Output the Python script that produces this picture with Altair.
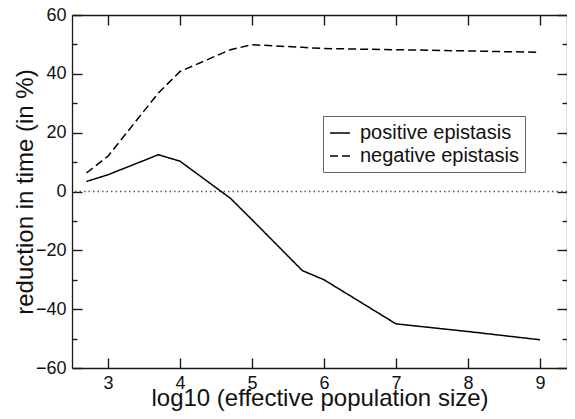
import altair as alt
import pandas as pd

# ---- data ----
log_n = [2.7, 3.0, 3.7, 4.0, 4.7, 5.0, 5.7, 6.0, 7.0, 8.0, 9.0]
positive = [3.4, 5.7, 12.5, 10.3, -2.3, -9.6, -26.9, -30.0, -45.0, -47.6, -50.4]
negative = [6.3, 12.0, 33.5, 40.8, 48.2, 49.9, 49.0, 48.6, 48.2, 47.8, 47.3]
series_names = ["positive epistasis", "negative epistasis"]
x_ticks = [3, 4, 5, 6, 7, 8, 9]
y_major = [-60, -40, -20, 0, 20, 40, 60]
y_minor = [-50, -30, -10, 10, 30, 50]
zero_level = [0]

rows = []
for xv, p, n in zip(log_n, positive, negative):
    rows.append({"x": xv, "y": p, "series": series_names[0]})
    rows.append({"x": xv, "y": n, "series": series_names[1]})
df = pd.DataFrame(rows)
zero_df = pd.DataFrame({"y": zero_level})

FONT = "Liberation Sans"
INK = "#1a1a1a"
xscale = alt.Scale(domain=[2.5, 9.375], nice=False, zero=False)
yscale = alt.Scale(domain=[-60, 60], nice=False, zero=False)

common_axis = dict(
    grid=False,
    domainColor=INK,
    domainWidth=1.3,
    tickColor=INK,
    tickWidth=1.4,
    labelFont=FONT,
    labelFontSize=18,
    labelColor="#111111",
)

x_bottom = alt.Axis(
    orient="bottom", values=x_ticks, tickSize={"expr": "-10"}, labelPadding=16,
    title="log10 (effective population size)", titleFont=FONT, titleFontSize=24,
    titleFontWeight="normal", titleColor="#111111", titleBaseline="alphabetic",
    titleY=37, **common_axis,
)
y_left = alt.Axis(
    orient="left", values=y_major, tickSize={"expr": "-10"}, labelPadding=16,
    title="reduction in time (in %)", titleFont=FONT, titleFontSize=24,
    titleFontWeight="normal", titleColor="#111111", titleBaseline="alphabetic",
    titleX=-40, **common_axis,
)
x_top = alt.Axis(orient="top", values=x_ticks, tickSize={"expr": "-10"},
                 labels=False, title=None, **common_axis)
y_right = alt.Axis(orient="right", values=y_major, tickSize={"expr": "-10"},
                   labels=False, title=None, **common_axis)
y_left_minor = alt.Axis(orient="left", values=y_minor, tickSize={"expr": "-5"},
                        labels=False, domain=False, title=None, **common_axis)
y_right_minor = alt.Axis(orient="right", values=y_minor, tickSize={"expr": "-5"},
                         labels=False, domain=False, title=None, **common_axis)

lines = alt.Chart(df).mark_line(color="black", strokeWidth=1.5).encode(
    x=alt.X("x:Q", scale=xscale, axis=x_bottom),
    y=alt.Y("y:Q", scale=yscale, axis=y_left),
    strokeDash=alt.StrokeDash(
        "series:N",
        scale=alt.Scale(domain=series_names, range=[[1, 0], [8, 4]]),
        legend=alt.Legend(
            title=None, orient="none", legendX=251, legendY=101,
            fillColor="white", strokeColor="#666666", padding=6,
            symbolType="stroke", symbolSize=400, symbolStrokeWidth=1.6,
            symbolStrokeColor="black", labelFont=FONT, labelFontSize=20,
            labelColor="#111111", labelOffset=9, rowPadding=2,
        ),
    ),
    detail="series:N",
)

frame = alt.Chart(df).mark_line(opacity=0).encode(
    x=alt.X("x:Q", scale=xscale, axis=x_top),
    y=alt.Y("y:Q", scale=yscale, axis=y_right),
    detail="series:N",
)

minor_left = alt.Chart(zero_df).mark_rule(opacity=0).encode(
    y=alt.Y("y:Q", scale=yscale, axis=y_left_minor),
)
minor_right = alt.Chart(zero_df).mark_rule(opacity=0).encode(
    y=alt.Y("y:Q", scale=yscale, axis=y_right_minor),
)

zero_line = alt.Chart(zero_df).mark_rule(
    color="#555555", strokeWidth=1.3, strokeDash=[1.5, 3]
).encode(y=alt.Y("y:Q", scale=yscale, axis=None))

chart = (
    alt.layer(zero_line, lines, frame, minor_left, minor_right)
    .resolve_axis(x="independent", y="independent")
    .properties(
        width=495, height=353,
        autosize=alt.AutoSizeParams(type="none"),
        padding={"left": 64, "top": 7, "right": 0, "bottom": 43},
        background="white",
    )
    .configure_view(stroke=None)
)

chart.save("out.html", embed_options={"renderer": "svg", "actions": False})
